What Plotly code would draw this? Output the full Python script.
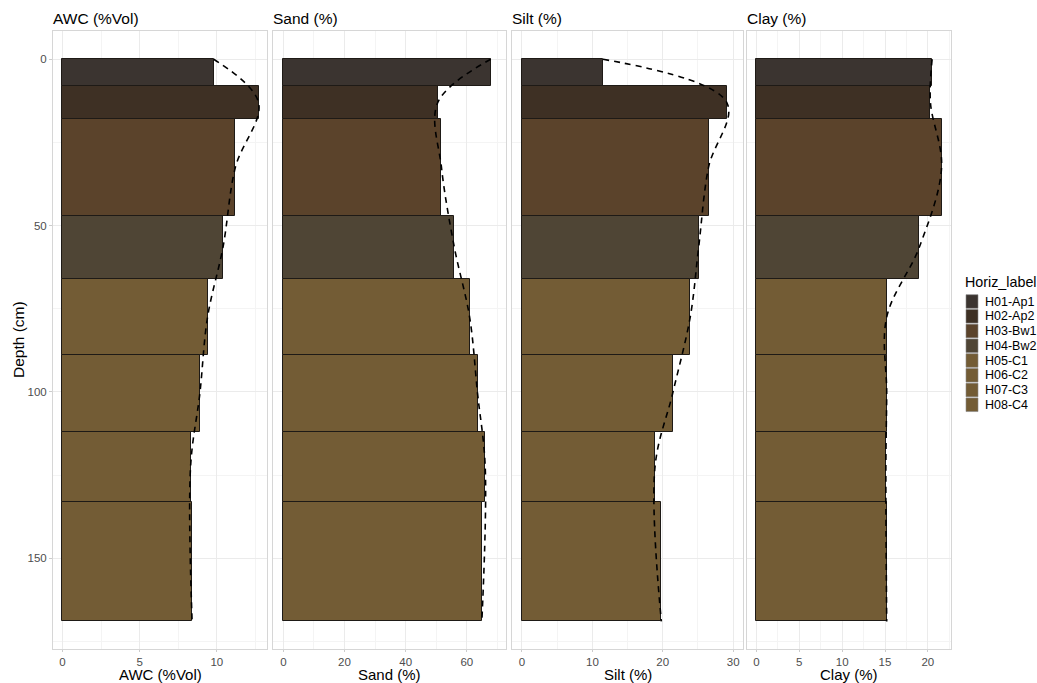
import plotly.graph_objects as go

# Horizon designations and depths (cm)
horizons = ["H01-Ap1", "H02-Ap2", "H03-Bw1", "H04-Bw2", "H05-C1", "H06-C2", "H07-C3", "H08-C4"]
top_cm = [0, 8, 18, 47, 66, 89, 112, 133]
bottom_cm = [8, 18, 47, 66, 89, 112, 133, 169]
horizon_colors = ["#3b3430", "#3e3024", "#5b432b", "#4f4535", "#735c35", "#735c35", "#735c35", "#735c35"]

# Soil properties per horizon
awc = [9.8, 12.7, 11.2, 10.4, 9.4, 8.9, 8.3, 8.4]
sand = [67.8, 50.5, 51.7, 55.9, 60.9, 63.5, 66.0, 64.9]
silt = [11.5, 29.1, 26.5, 25.1, 23.9, 21.4, 18.9, 19.8]
clay = [20.5, 20.3, 21.6, 19.0, 15.2, 15.2, 15.1, 15.2]

panel_titles = ["AWC (%Vol)", "Sand (%)", "Silt (%)", "Clay (%)"]
panel_values = [awc, sand, silt, clay]
x_ranges = [[-0.61, 13.25], [-3.38, 72.8], [-1.42, 31.4], [-1.1, 22.7]]
x_major = [5, 20, 10, 5]
x_minor = [2.5, 10, 5, 2.5]

W, H = 1037, 683
panel_px = [(53, 267), (273, 506), (512, 743), (747, 951)]
y_top_px, y_bot_px = 31, 649
y_dom = [1 - y_bot_px / H, 1 - y_top_px / H]

FONT = "Liberation Sans, Arial, sans-serif"
GRID = "#ebebeb"
MINOR = "#f4f4f4"
BORDER = "#d6d6d6"
TITLE_SIZE = 15.5

mids = [(t + b) / 2 for t, b in zip(top_cm, bottom_cm)]
thick = [b - t for t, b in zip(top_cm, bottom_cm)]
# profile curve anchored at the surface and at the base of the profile
curve_depth = [top_cm[0]] + mids[1:-1] + [bottom_cm[-1]]

fig = go.Figure()

for p, vals in enumerate(panel_values):
    xa = "x" if p == 0 else f"x{p + 1}"
    ya = "y" if p == 0 else f"y{p + 1}"
    for i, name in enumerate(horizons):
        fig.add_trace(go.Bar(
            x=[vals[i]], y=[mids[i]], width=[thick[i]], base=0,
            orientation="h", name=name, showlegend=False,
            marker=dict(color=horizon_colors[i], line=dict(color="#1e1a16", width=1)),
            xaxis=xa, yaxis=ya,
        ))
    fig.add_trace(go.Scatter(
        x=vals, y=curve_depth, mode="lines", showlegend=False,
        line=dict(color="black", width=1.6, dash="6px,5px", shape="spline", smoothing=1.0),
        xaxis=xa, yaxis=ya, hoverinfo="skip",
    ))

layout = dict(
    width=W, height=H,
    margin=dict(l=0, r=0, t=0, b=0, autoexpand=False),
    paper_bgcolor="white", plot_bgcolor="white",
    font=dict(family=FONT, color="#4d4d4d", size=11.5),
    barmode="overlay", bargap=0, showlegend=False,
)

for p in range(4):
    key = "xaxis" if p == 0 else f"xaxis{p + 1}"
    x0, x1 = panel_px[p]
    layout[key] = dict(
        domain=[x0 / W, x1 / W], range=x_ranges[p], anchor="y" if p == 0 else f"y{p + 1}",
        tick0=0, dtick=x_major[p], showgrid=True, gridcolor=GRID, gridwidth=1,
        minor=dict(tick0=0, dtick=x_minor[p], showgrid=True, gridcolor=MINOR, gridwidth=0.6),
        zeroline=False, showline=True, mirror=True, linecolor=BORDER, linewidth=1,
        ticks="outside", ticklen=2, tickcolor="#cccccc",
        tickfont=dict(size=11.5, color="#4d4d4d"),
        fixedrange=True,
    )
    ykey = "yaxis" if p == 0 else f"yaxis{p + 1}"
    ydef = dict(
        domain=y_dom, range=[177.3, -8.5], anchor="x" if p == 0 else f"x{p + 1}",
        tick0=0, dtick=50, showgrid=True, gridcolor=GRID, gridwidth=1,
        minor=dict(tick0=0, dtick=25, showgrid=True, gridcolor=MINOR, gridwidth=0.6),
        zeroline=False, showline=True, mirror=True, linecolor=BORDER, linewidth=1,
        fixedrange=True,
    )
    if p == 0:
        ydef.update(ticks="outside", ticklen=3, tickcolor="#cccccc",
                    tickfont=dict(size=11.5, color="#4d4d4d"))
    else:
        ydef.update(matches="y", showticklabels=False, ticks="")
    layout[ykey] = ydef

fig.update_layout(**layout)

# shared depth axis title
fig.add_annotation(
    text="Depth (cm)", x=18 / W, y=1 - 340 / H, xref="paper", yref="paper",
    xanchor="center", yanchor="middle", textangle=-90, showarrow=False,
    font=dict(family=FONT, size=TITLE_SIZE, color="black"),
)

# panel headers and x-axis titles
for p, title in enumerate(panel_titles):
    x0, x1 = panel_px[p]
    fig.add_annotation(
        text=title, x=(x0 - 2) / W, y=1 - 18 / H, xref="paper", yref="paper",
        xanchor="left", yanchor="middle", showarrow=False,
        font=dict(family=FONT, size=TITLE_SIZE, color="black"),
    )
    fig.add_annotation(
        text=title, x=(x0 + x1) / 2 / W, y=1 - 674.5 / H, xref="paper", yref="paper",
        xanchor="center", yanchor="middle", showarrow=False,
        font=dict(family=FONT, size=15, color="black"),
    )

# horizon legend: title, colour keys and labels
leg_x, leg_title_y, leg_first_y, leg_step = 965, 282, 301.5, 14.75
fig.add_annotation(
    text="Horiz_label", x=(leg_x - 2) / W, y=1 - leg_title_y / H, xref="paper", yref="paper",
    xanchor="left", yanchor="middle", showarrow=False,
    font=dict(family=FONT, size=14.3, color="black"),
)
for i, name in enumerate(horizons):
    cy = leg_first_y + i * leg_step
    fig.add_shape(
        type="rect", xref="paper", yref="paper",
        x0=(leg_x + 1) / W, x1=(leg_x + 13) / W,
        y0=1 - (cy + 6.8) / H, y1=1 - (cy - 6.8) / H,
        fillcolor=horizon_colors[i], line=dict(color="#8a8a8a", width=0.6),
    )
    fig.add_annotation(
        text=name, x=(leg_x + 18) / W, y=1 - cy / H, xref="paper", yref="paper",
        xanchor="left", yanchor="middle", showarrow=False,
        font=dict(family=FONT, size=12.5, color="black"),
    )

fig.write_html("out.html")
